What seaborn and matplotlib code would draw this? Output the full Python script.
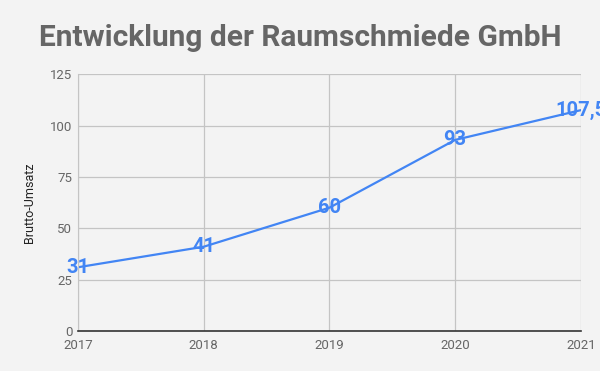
import pandas as pd
import seaborn as sns
import matplotlib.pyplot as plt

# === Data ===
years = [2017, 2018, 2019, 2020, 2021]
umsatz = [31, 41, 60, 93, 107.5]
labels = ["31", "41", "60", "93", "107,5"]

df = pd.DataFrame({"Jahr": years, "Brutto-Umsatz": umsatz})

# === Style ===
sns.set_style("white")
plt.rcParams["font.family"] = ["Roboto", "DejaVu Sans"]

bg = "#f3f3f3"
blue = "#4285f4"
grey = "#666666"

fig = plt.figure(figsize=(6, 3.71), dpi=100, facecolor=bg)
ax = fig.add_axes([0.13, 0.108, 0.838, 0.692], facecolor=bg)

sns.lineplot(data=df, x="Jahr", y="Brutto-Umsatz", color=blue, linewidth=1.6, ax=ax)

# data labels on the points (last one runs off the edge, as in the original)
for x, y, t in zip(years, umsatz, labels):
    ax.text(x, y, t, ha="center", va="center", fontsize=14.5, fontweight="bold",
            color=blue, clip_on=False)

ax.set_xlim(2017, 2021)
ax.set_ylim(0, 125)
ax.set_xticks(years)
ax.set_yticks([0, 25, 50, 75, 100, 125])
ax.grid(True, color="#c4c4c4", linewidth=0.9)
ax.set_axisbelow(True)

for s in ["top", "right"]:
    ax.spines[s].set_visible(False)
ax.spines["left"].set_color("#c4c4c4")
ax.spines["bottom"].set_color("#333333")
ax.spines["bottom"].set_linewidth(1.2)

ax.tick_params(axis="both", length=0, labelsize=9.5, colors=grey, pad=4)
ax.tick_params(axis="x", pad=6)
ax.set_xlabel("")
ax.set_ylabel("Brutto-Umsatz", fontsize=9, color="#222222", labelpad=10)

fig.suptitle("Entwicklung der Raumschmiede GmbH", x=0.5, y=0.935,
             fontsize=21.5, fontweight="bold", color=grey)

fig.savefig("out.png", dpi=100, facecolor=bg)
